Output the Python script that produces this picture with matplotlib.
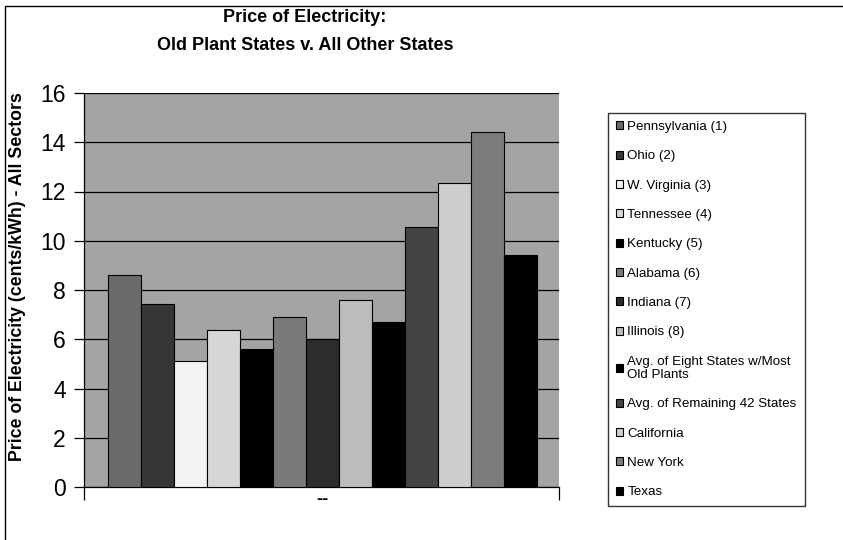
import matplotlib
matplotlib.use("Agg")
import matplotlib.pyplot as plt
from matplotlib.patches import Rectangle

plt.rcParams['font.family'] = ['Liberation Sans', 'DejaVu Sans']

states = ["Pennsylvania (1)", "Ohio (2)", "W. Virginia (3)", "Tennessee (4)",
          "Kentucky (5)", "Alabama (6)", "Indiana (7)", "Illinois (8)",
          "Avg. of Eight States w/Most\nOld Plants", "Avg. of Remaining 42 States",
          "California", "New York", "Texas"]
prices = [8.6, 7.45, 5.1, 6.38, 5.62, 6.92, 6.0, 7.6, 6.7, 10.55, 12.35, 14.4, 9.43]
bar_colors = ["#6a6a6a", "#363636", "#f2f2f2", "#d6d6d6", "#000000", "#7a7a7a",
              "#2c2c2c", "#bcbcbc", "#000000", "#444444", "#cdcdcd", "#7c7c7c", "#000000"]
yticks = [0, 2, 4, 6, 8, 10, 12, 14, 16]
xlabel_text = "--"

W, H = 843, 540
fig = plt.figure(figsize=(W / 100, H / 100), dpi=100)
fig.patch.set_facecolor("white")

ax = fig.add_axes([84 / W, 1 - 487 / H, (559 - 84) / W, (487 - 93) / H])
ax.set_facecolor("#a4a4a4")

for i, (lab, v, c) in enumerate(zip(states, prices, bar_colors)):
    ax.bar(i, v, width=1.0, color=c, edgecolor="black", linewidth=0.8,
           label=lab, zorder=3)

ax.set_ylim(0, 16)
ax.set_xlim(-1.23, 13.17)
ax.set_yticks(yticks)
ax.set_yticklabels([str(t) for t in yticks], fontsize=16.5)
ax.yaxis.grid(True, color="black", linewidth=0.9, zorder=1)
ax.set_axisbelow(True)
ax.tick_params(axis="y", direction="out", length=7, width=0.9, pad=6)

ax.set_xticks([6])
ax.set_xticklabels([xlabel_text], fontsize=13, fontweight="bold")
ax.tick_params(axis="x", which="major", length=0, pad=3)
ax.set_xticks([-1.23, 13.17], minor=True)
ax.tick_params(axis="x", which="minor", direction="out", length=9, width=0.9)

for side in ["top", "right"]:
    ax.spines[side].set_visible(False)
ax.spines["left"].set_linewidth(0.9)
ax.spines["bottom"].set_linewidth(0.9)

fig.text(305 / W, 1 - 18 / H, "Price of Electricity:", ha="center", va="center",
         fontsize=13, fontweight="bold")
fig.text(305 / W, 1 - 45 / H, "Old Plant States v. All Other States", ha="center",
         va="center", fontsize=13, fontweight="bold")
fig.text(18 / W, 1 - 277 / H, "Price of Electricity (cents/kWh) - All Sectors",
         rotation=90, ha="center", va="center", fontsize=12.8, fontweight="bold")

leg = ax.legend(loc="upper left", bbox_to_anchor=(608 / W, 1 - 113 / H),
                bbox_transform=fig.transFigure, fontsize=9.6, frameon=True,
                fancybox=False, shadow=False, borderaxespad=0, borderpad=0.6,
                handlelength=0.55, handleheight=0.55, handletextpad=0.3,
                labelspacing=1.3)
leg.get_frame().set_edgecolor("black")
leg.get_frame().set_linewidth(1.0)
for t in leg.get_texts():
    t.set_linespacing(1.15)

fig.add_artist(Rectangle((5 / W, -0.1), 1.2, 1.1 - 6 / H, transform=fig.transFigure,
                         fill=False, edgecolor="black", linewidth=1.0))

fig.savefig("out.png", dpi=100)
